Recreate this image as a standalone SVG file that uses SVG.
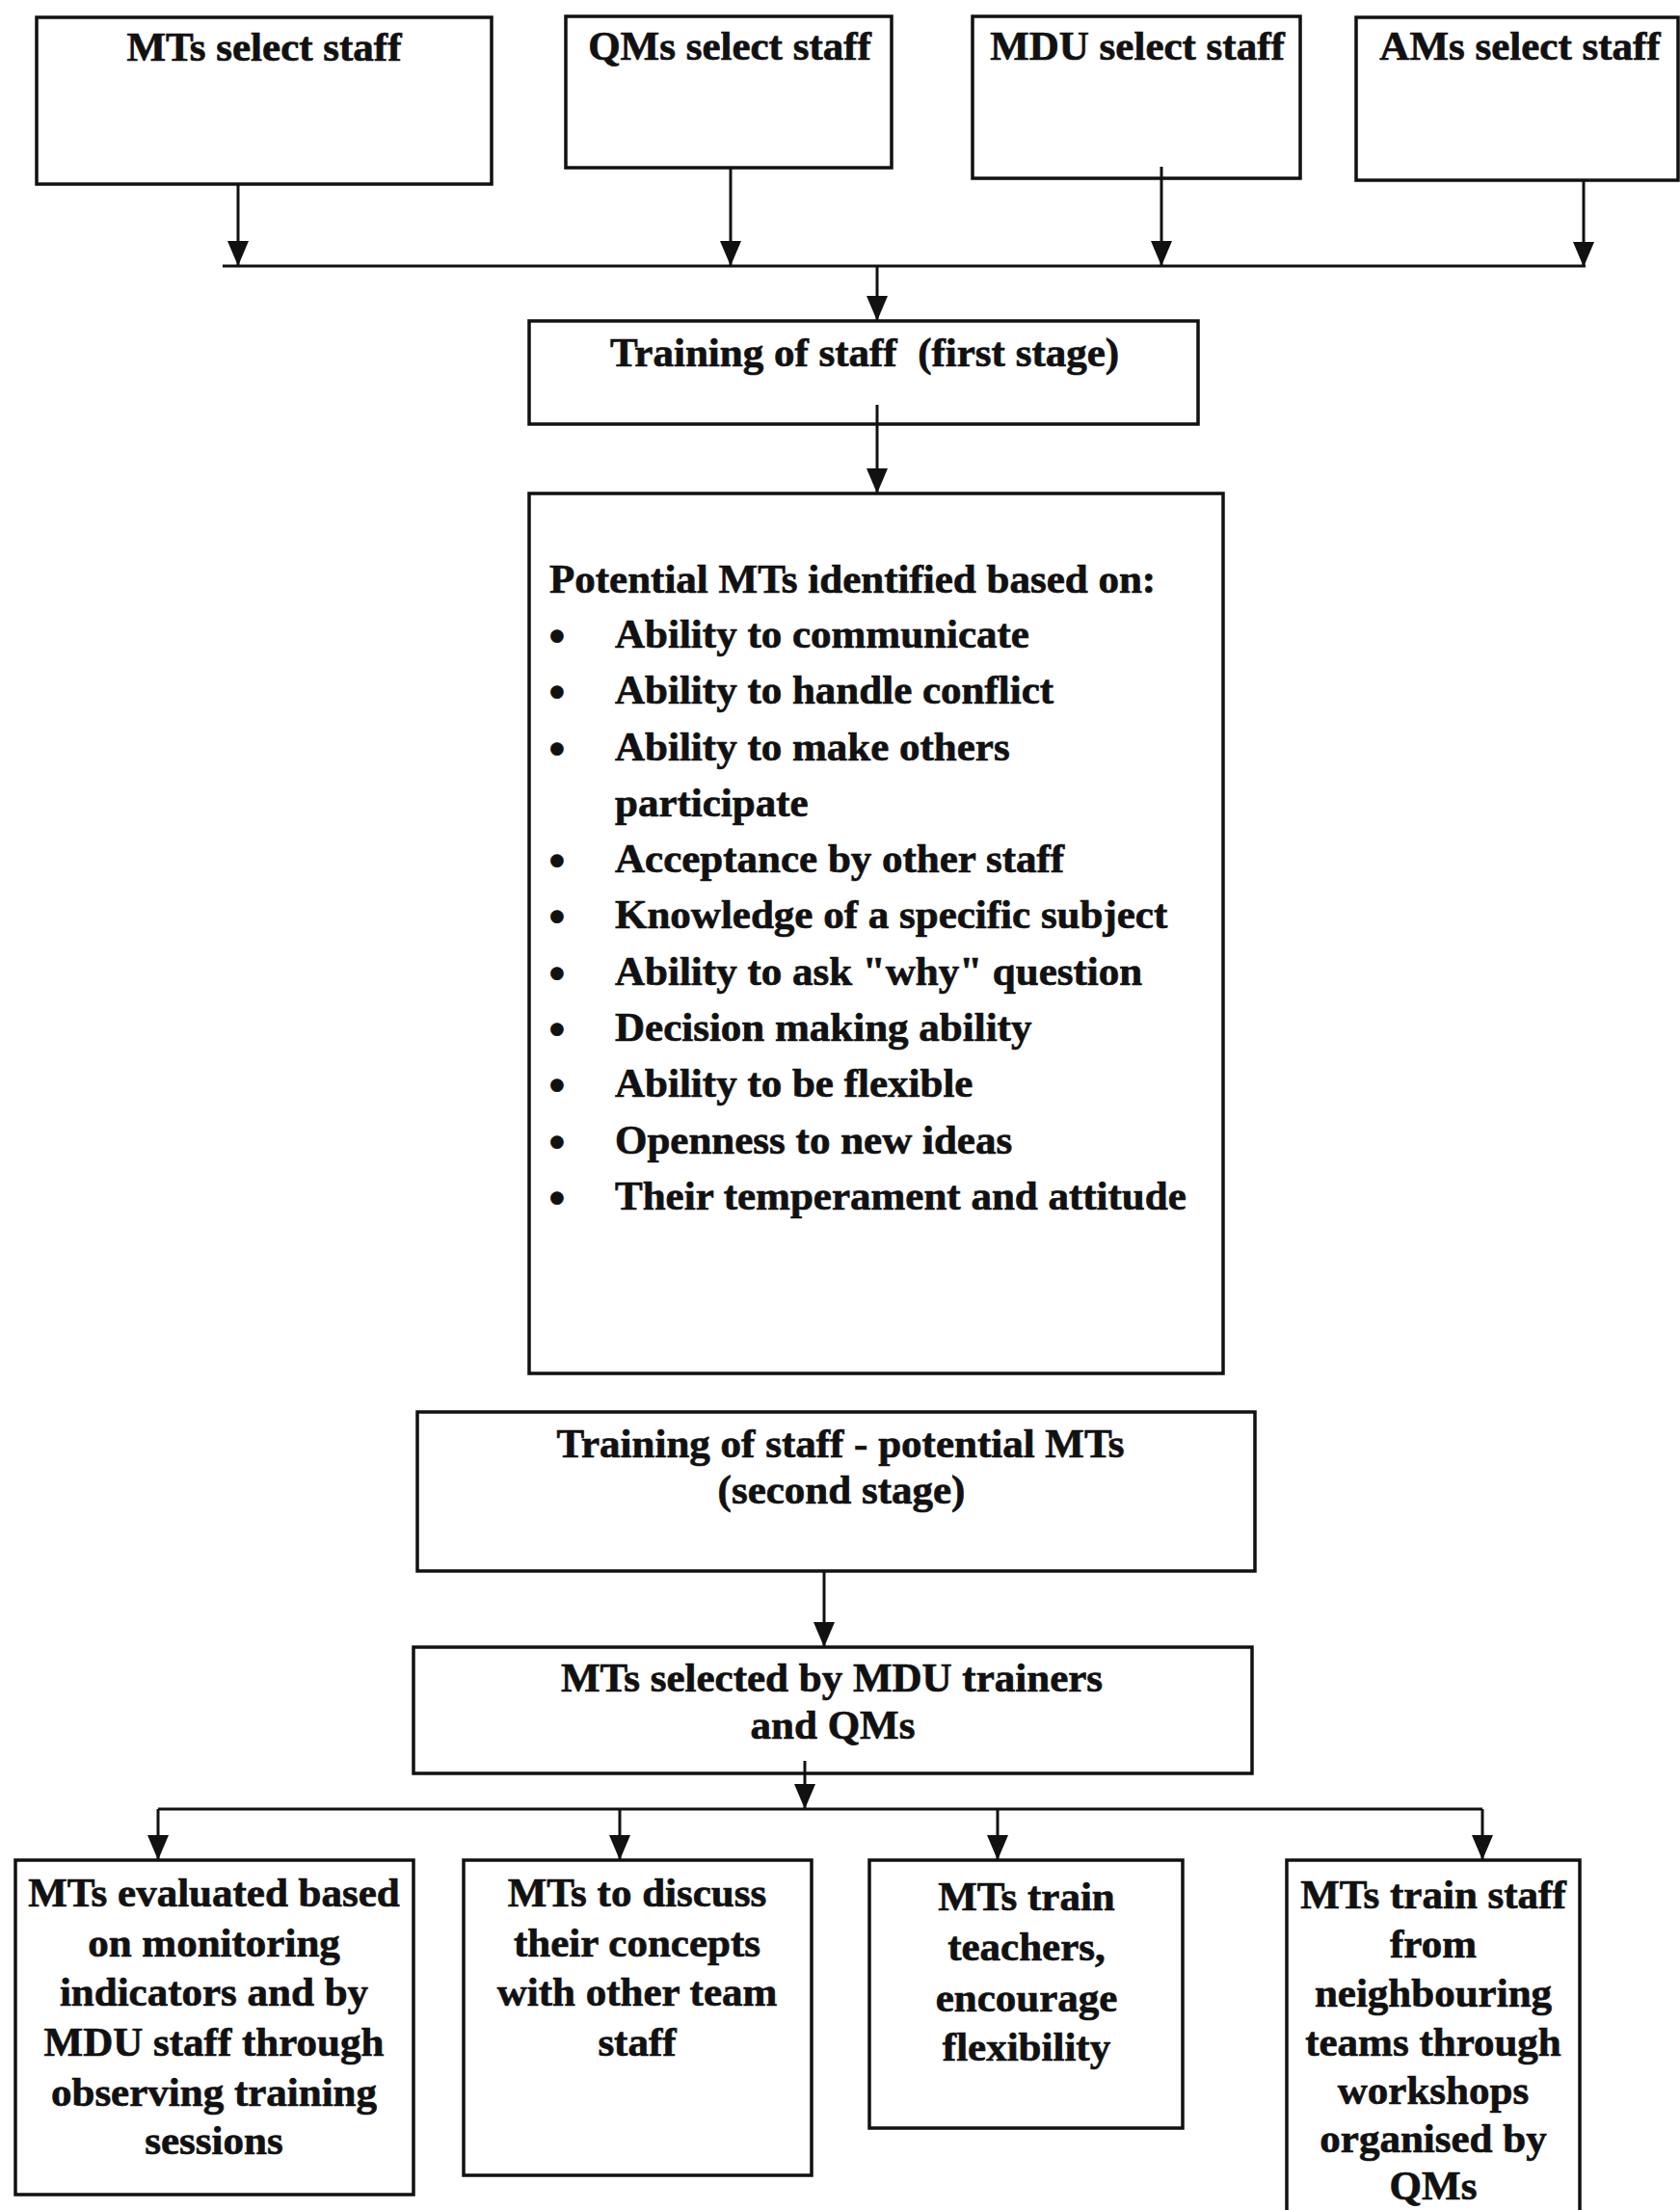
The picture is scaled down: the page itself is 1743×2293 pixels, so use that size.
<svg xmlns="http://www.w3.org/2000/svg" width="1743" height="2293" viewBox="0 0 1743 2293">
  <defs>
    <style>
      .box { fill: none; stroke: #111; stroke-width: 3.5; }
      .wire { fill: none; stroke: #111; stroke-width: 3; }
      .arrow { fill: none; stroke: #111; stroke-width: 3; marker-end: url(#head); }
      text { font-family: "Liberation Serif", "Times New Roman", serif; font-weight: bold; font-size: 43px; fill: #111; stroke: #111; stroke-width: 0.7; }
      .c { text-anchor: middle; }
      .bullet { text-anchor: middle; font-size: 48px; }
    </style>
    <marker id="head" viewBox="0 0 26 22" refX="26" refY="11" markerWidth="26" markerHeight="22" markerUnits="userSpaceOnUse" orient="auto">
      <path d="M0,0 L26,11 L0,22 z" fill="#111"/>
    </marker>
  </defs>
  <rect width="1743" height="2293" fill="#fff"/>

  <!-- connectors -->
  <g id="connectors">
    <line class="arrow" x1="247" y1="191" x2="247" y2="276"/>
    <line class="arrow" x1="758" y1="174" x2="758" y2="276"/>
    <line class="arrow" x1="1205" y1="173" x2="1205" y2="276"/>
    <line class="arrow" x1="1643" y1="187" x2="1643" y2="277"/>
    <line class="wire" x1="231" y1="276" x2="1645" y2="276"/>
    <line class="arrow" x1="910" y1="276" x2="910" y2="333"/>
    <line class="arrow" x1="910" y1="420" x2="910" y2="512"/>
    <line class="arrow" x1="855" y1="1630" x2="855" y2="1709"/>
    <line class="arrow" x1="835" y1="1827" x2="835" y2="1877"/>
    <line class="wire" x1="164" y1="1877" x2="1538" y2="1877"/>
    <line class="arrow" x1="164" y1="1877" x2="164" y2="1930"/>
    <line class="arrow" x1="643" y1="1877" x2="643" y2="1930"/>
    <line class="arrow" x1="1035" y1="1877" x2="1035" y2="1930"/>
    <line class="arrow" x1="1538" y1="1877" x2="1538" y2="1930"/>
  </g>

  <!-- selectors -->
  <g id="mts-select">
    <rect class="box" x="38" y="18" width="472" height="173"/>
    <text class="c" x="274" y="63">MTs select staff</text>
  </g>
  <g id="qms-select">
    <rect class="box" x="587" y="17" width="338" height="157"/>
    <text class="c" x="757" y="62">QMs select staff</text>
  </g>
  <g id="mdu-select">
    <rect class="box" x="1009" y="17" width="340" height="168"/>
    <text class="c" x="1180" y="62">MDU select staff</text>
  </g>
  <g id="ams-select">
    <rect class="box" x="1407" y="18" width="334" height="169"/>
    <text class="c" x="1577" y="62">AMs select staff</text>
  </g>

  <!-- first stage -->
  <g id="first-stage">
    <rect class="box" x="549" y="333" width="694" height="107"/>
    <text class="c" x="897" y="380" xml:space="preserve">Training of staff  (first stage)</text>
  </g>

  <!-- criteria list -->
  <g id="criteria">
    <rect class="box" x="549" y="512" width="720" height="913"/>
    <text x="570" y="615">Potential MTs identified based on:</text>
    <text class="bullet" x="578" y="676">•</text>
    <text x="638" y="672">Ability to communicate</text>
    <text class="bullet" x="578" y="734">•</text>
    <text x="638" y="730">Ability to handle conflict</text>
    <text class="bullet" x="578" y="793">•</text>
    <text x="638" y="789">Ability to make others</text>
    <text x="638" y="847">participate</text>
    <text class="bullet" x="578" y="909">•</text>
    <text x="638" y="905">Acceptance by other staff</text>
    <text class="bullet" x="578" y="967">•</text>
    <text x="638" y="963">Knowledge of a specific subject</text>
    <text class="bullet" x="578" y="1026">•</text>
    <text x="638" y="1022">Ability to ask "why" question</text>
    <text class="bullet" x="578" y="1084">•</text>
    <text x="638" y="1080">Decision making ability</text>
    <text class="bullet" x="578" y="1142">•</text>
    <text x="638" y="1138">Ability to be flexible</text>
    <text class="bullet" x="578" y="1201">•</text>
    <text x="638" y="1197">Openness to new ideas</text>
    <text class="bullet" x="578" y="1259">•</text>
    <text x="638" y="1255">Their temperament and attitude</text>
  </g>

  <!-- second stage -->
  <g id="second-stage">
    <rect class="box" x="433" y="1465" width="869" height="165"/>
    <text class="c" x="872" y="1512">Training of staff - potential MTs</text>
    <text class="c" x="873" y="1560">(second stage)</text>
  </g>

  <g id="mts-selected">
    <rect class="box" x="429" y="1709" width="870" height="131"/>
    <text class="c" x="863" y="1755">MTs selected by MDU trainers</text>
    <text class="c" x="864" y="1804">and QMs</text>
  </g>

  <!-- outcomes -->
  <g id="evaluated">
    <rect class="box" x="16" y="1930" width="413" height="347"/>
    <text class="c" x="222" y="1978">MTs evaluated based</text>
    <text class="c" x="222" y="2030">on monitoring</text>
    <text class="c" x="222" y="2081">indicators and by</text>
    <text class="c" x="222" y="2133">MDU staff through</text>
    <text class="c" x="222" y="2185">observing training</text>
    <text class="c" x="222" y="2235">sessions</text>
  </g>
  <g id="discuss">
    <rect class="box" x="481" y="1930" width="361" height="327"/>
    <text class="c" x="661" y="1978">MTs to discuss</text>
    <text class="c" x="661" y="2030">their concepts</text>
    <text class="c" x="661" y="2081">with other team</text>
    <text class="c" x="661" y="2133">staff</text>
  </g>
  <g id="train-teachers">
    <rect class="box" x="902" y="1930" width="325" height="278"/>
    <text class="c" x="1065" y="1982">MTs train</text>
    <text class="c" x="1065" y="2034">teachers,</text>
    <text class="c" x="1065" y="2087">encourage</text>
    <text class="c" x="1065" y="2138">flexibility</text>
  </g>
  <g id="train-neighbours">
    <rect class="box" x="1335" y="1930" width="304" height="380"/>
    <text class="c" x="1487" y="1980">MTs train staff</text>
    <text class="c" x="1487" y="2031">from</text>
    <text class="c" x="1487" y="2082">neighbouring</text>
    <text class="c" x="1487" y="2133">teams through</text>
    <text class="c" x="1487" y="2183">workshops</text>
    <text class="c" x="1487" y="2233">organised by</text>
    <text class="c" x="1487" y="2282">QMs</text>
  </g>
</svg>
